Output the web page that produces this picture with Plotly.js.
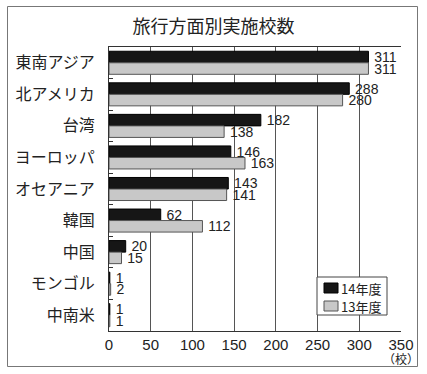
<!DOCTYPE html>
<html><head><meta charset="utf-8">
<script src="https://cdn.plot.ly/plotly-3.0.1.min.js"></script>
<style>html,body{margin:0;padding:0;background:#fff}#c{width:427px;height:374px}</style>
</head><body><div id="c"></div>
<script>
var categories = ["東南アジア","北アメリカ","台湾","ヨーロッパ","オセアニア","韓国","中国","モンゴル","中南米"];
var values14 = [311,288,182,146,143,62,20,1,1];
var values13 = [311,280,138,163,141,112,15,2,1];
var seriesNames = ["14年度","13年度"];
var xTicks = [0,50,100,150,200,250,300,350];

var W=427,H=374,L=109,R=26,T=47,B=43;
var pw=W-L-R, ph=H-T-B;
var font="'Noto Sans CJK JP','Noto Sans',sans-serif";
var numFont="'Liberation Sans',Arial,sans-serif";
function px2x(p){return (p-L)/pw;}
function px2y(p){return (H-B-p)/ph;}

var colors = [{fill:'#161616',line:'#000'},{fill:'#c8c8c8',line:'#555'}];
var common = {type:'bar',orientation:'h',y:categories,textposition:'outside',showlegend:false,
  cliponaxis:false,constraintext:'none',textfont:{size:14,color:'#222',family:numFont}};
var t14 = Object.assign({},common,{name:seriesNames[0],x:values14,text:values14.map(function(v){return '\u2009'+v;}),
  marker:{color:colors[0].fill,line:{color:colors[0].line,width:1}}});
var t13 = Object.assign({},common,{name:seriesNames[1],x:values13,text:values13.map(function(v){return '\u2009'+v;}),
  marker:{color:colors[1].fill,line:{color:colors[1].line,width:1}}});

// manual legend box (styling only)
var lx0=317, lx1=387, ly0=277, ly1=315;
var shapes=[{type:'rect',xref:'paper',yref:'paper',x0:px2x(7.5),x1:px2x(417.5),y0:px2y(6.5),y1:px2y(366.5),
    line:{color:'#777',width:1},fillcolor:'rgba(0,0,0,0)',layer:'below'},
  {type:'rect',xref:'paper',yref:'paper',x0:px2x(lx0),x1:px2x(lx1),y0:px2y(ly0),y1:px2y(ly1),
    line:{color:'#444',width:1},fillcolor:'#fff',layer:'above'}];
var annotations=[{xref:'paper',yref:'paper',x:px2x(401),y:px2y(358),text:'（校）',showarrow:false,
    xanchor:'center',yanchor:'middle',font:{size:12,color:'#222'}}];
seriesNames.forEach(function(n,i){
  var cy = 288 + i*18;
  shapes.push({type:'rect',xref:'paper',yref:'paper',x0:px2x(lx0+7),x1:px2x(lx0+21),y0:px2y(cy-5),y1:px2y(cy+5),
    line:{color:colors[i].line,width:1},fillcolor:colors[i].fill,layer:'above'});
  annotations.push({xref:'paper',yref:'paper',x:px2x(lx0+23),y:px2y(cy),text:n,showarrow:false,
    xanchor:'left',yanchor:'middle',xshift:-1,font:{size:13,color:'#222'}});
});

var layout = {
  width:W,height:H,margin:{l:L,r:R,t:T,b:B,pad:0},
  paper_bgcolor:'#fff',plot_bgcolor:'#fff',
  font:{family:font,color:'#222'},
  title:{text:'旅行方面別実施校数',x:0.5,xanchor:'center',y:1-27/H,yanchor:'middle',font:{size:18,color:'#222',family:font}},
  barmode:'group',bargap:0.27,bargroupgap:0,
  showlegend:false,
  xaxis:{range:[0,350],tickvals:xTicks,ticktext:xTicks.map(String),showgrid:true,gridcolor:'#555',gridwidth:1,
    zeroline:false,showline:true,linecolor:'#333',mirror:true,ticks:'',tickfont:{size:15,color:'#222',family:numFont},fixedrange:true},
  yaxis:{autorange:'reversed',showline:true,linecolor:'#333',ticks:'inside',ticklen:4,tickcolor:'#333',
    tickson:'boundaries',tickfont:{size:16,color:'#222'},ticklabelstandoff:10,fixedrange:true},
  shapes:shapes,
  annotations:annotations
};
Plotly.newPlot('c',[t14,t13],layout,{displayModeBar:false,staticPlot:true});
</script></body></html>
